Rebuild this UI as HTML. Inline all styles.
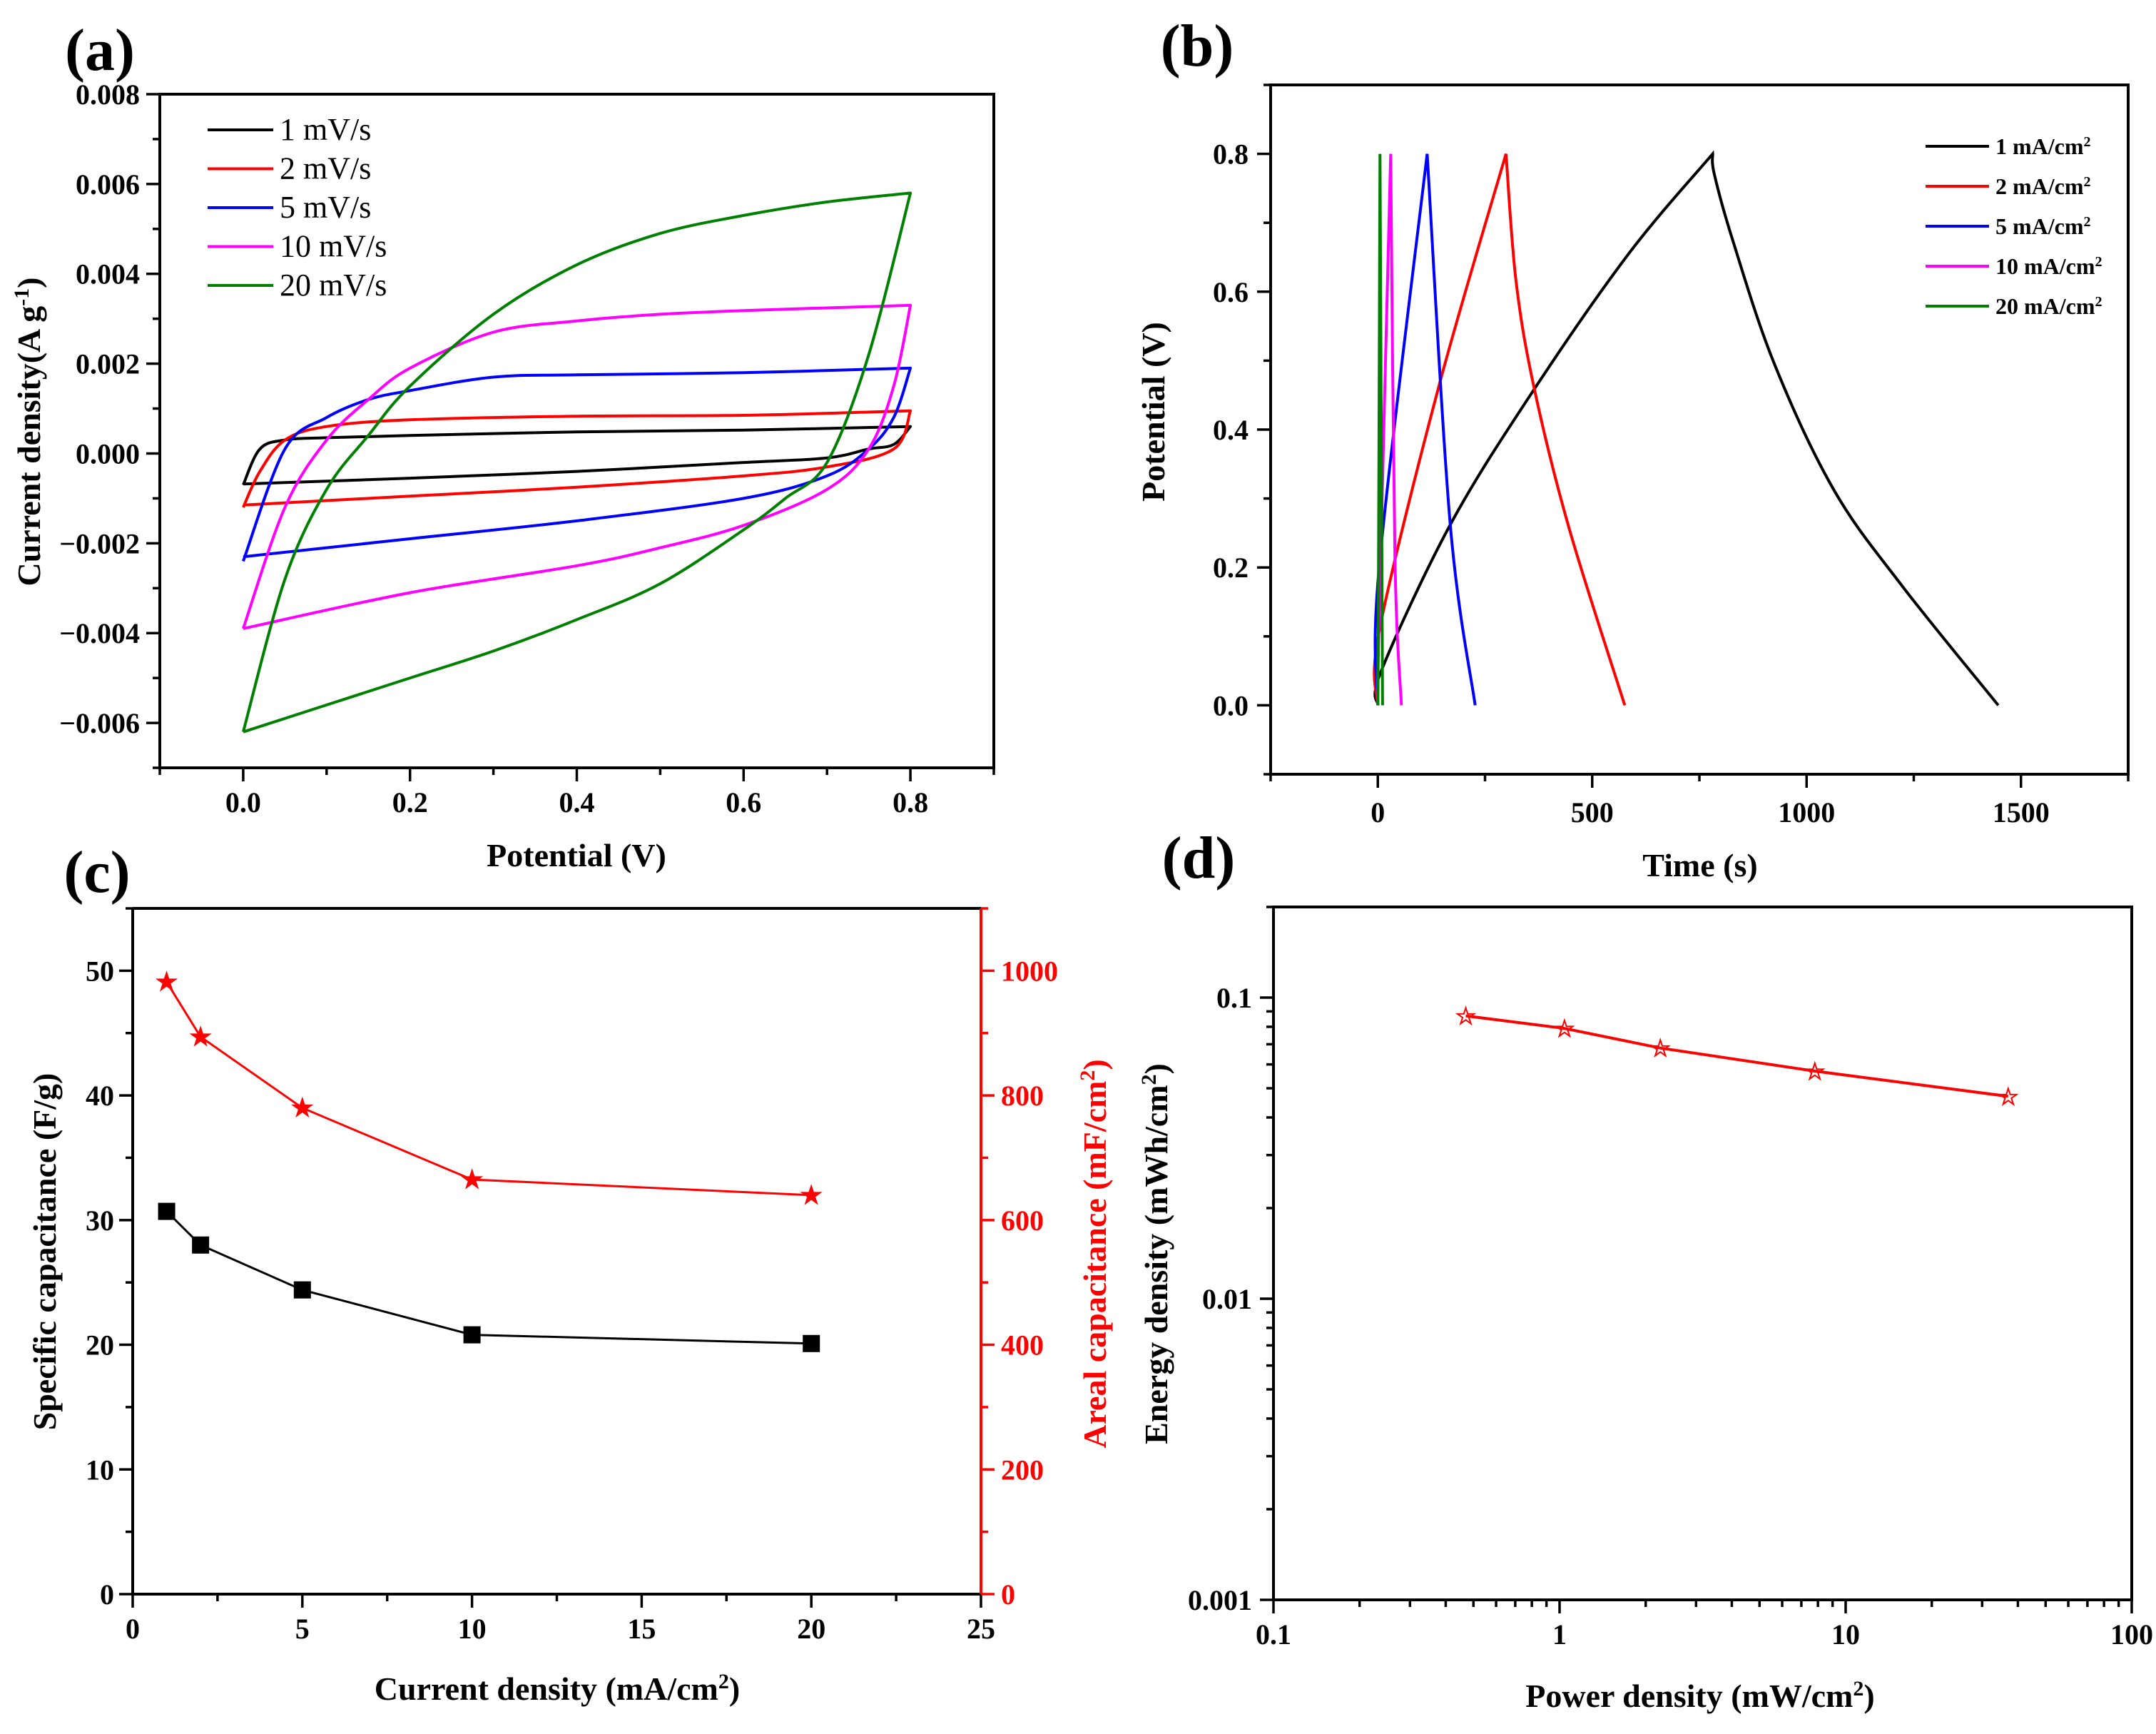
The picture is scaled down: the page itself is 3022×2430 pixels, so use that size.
<!DOCTYPE html>
<html><head><meta charset="utf-8">
<style>
html,body{margin:0;padding:0;background:#fff;}
svg{display:block;}
text{font-family:"Liberation Serif",serif;font-weight:bold;}
</style></head>
<body>
<svg id="fig" width="3022" height="2430" viewBox="0 0 3022 2430" xmlns="http://www.w3.org/2000/svg">
<rect width="3022" height="2430" fill="#fff"/>
</svg>
<script>
// ---------- Panel (a) data: CV curves ----------
const cvSeries = ["1 mV/s","2 mV/s","5 mV/s","10 mV/s","20 mV/s"];
const cvColors = ["#000000","#ff0000","#0000ff","#ff00ff","#008000"];
const cvUpperV = [
 [0,0.02,0.05,0.1,0.2,0.4,0.6,0.8],
 [0,0.02,0.05,0.1,0.2,0.4,0.6,0.8],
 [0,0.05,0.1,0.15,0.2,0.3,0.4,0.6,0.8],
 [0,0.05,0.1,0.15,0.2,0.3,0.4,0.5,0.6,0.8],
 [0,0.05,0.1,0.15,0.2,0.3,0.4,0.5,0.6,0.7,0.8]];
const cvUpperI = [
 [-0.0007,0.0001,0.0003,0.00035,0.0004,0.00048,0.00052,0.0006],
 [-0.0012,-0.0004,0.0003,0.0006,0.00075,0.00083,0.00085,0.00095],
 [-0.0024,0.0001,0.0008,0.0012,0.0014,0.0017,0.00175,0.0018,0.0019],
 [-0.0039,-0.0012,0.0003,0.0012,0.0019,0.0027,0.00295,0.0031,0.00318,0.0033],
 [-0.0062,-0.0028,-0.0008,0.0004,0.0015,0.0031,0.0042,0.0049,0.0053,0.0056,0.0058]];
const cvLowerV = [
 [0.8,0.78,0.75,0.7,0.6,0.4,0.2,0],
 [0.8,0.78,0.7,0.6,0.4,0.2,0],
 [0.8,0.78,0.75,0.7,0.6,0.4,0.2,0],
 [0.8,0.78,0.75,0.7,0.6,0.5,0.4,0.2,0],
 [0.8,0.75,0.7,0.65,0.6,0.5,0.4,0.3,0.2,0.1,0]];
const cvLowerI = [
 [0.0006,0.0002,0.0001,-0.0001,-0.0002,-0.0004,-0.00055,-0.00068],
 [0.00095,0.0001,-0.0003,-0.0005,-0.00075,-0.00095,-0.00115],
 [0.0019,0.0008,0.0001,-0.0005,-0.001,-0.0015,-0.0019,-0.0023],
 [0.0033,0.0015,0.0001,-0.0008,-0.0016,-0.0021,-0.0025,-0.0031,-0.0039],
 [0.0058,0.0022,-0.0002,-0.001,-0.0017,-0.0029,-0.0037,-0.0044,-0.005,-0.0056,-0.0062]];
const cvXTicks = ["0.0","0.2","0.4","0.6","0.8"];
const cvYTicks = ["-0.006","-0.004","-0.002","0.000","0.002","0.004","0.006","0.008"];

// ---------- Panel (b) data: GCD ----------
const gcdSeries = ["1 mA/cm","2 mA/cm","5 mA/cm","10 mA/cm","20 mA/cm"];
const gcdChargeT = [[0,8,169,361,585,781],[0,3,142,299],[0,3,115],[0,2,30],[0,1,5]];
const gcdChargeV = [[0,0.05,0.262,0.455,0.655,0.8],[0,0.107,0.462,0.8],[0,0.2,0.8],[0,0.1,0.8],[0,0.1,0.8]];
const gcdDischT = [[781,785,829,925,1064,1223,1447],[299,322,364,446,576],[115,169,227],[30,40,55],[5,8,11]];
const gcdDischV = [[0.8,0.77,0.672,0.495,0.312,0.173,0],[0.8,0.617,0.462,0.257,0],[0.8,0.262,0],[0.8,0.212,0],[0.8,0.4,0]];
const gcdXTicks = ["0","500","1000","1500"];
const gcdYTicks = ["0.0","0.2","0.4","0.6","0.8"];

// ---------- Panel (c) data ----------
const capCurrent = [1,2,5,10,20];
const capSpecific = [30.7,28.0,24.4,20.8,20.1];
const capAreal = [982,894,780,665,640];
const capXTicks = ["0","5","10","15","20","25"];
const capYTicks = ["0","10","20","30","40","50"];
const capY2Ticks = ["0","200","400","600","800","1000"];

// ---------- Panel (d) data ----------
const ragPower = [0.47,1.04,2.25,7.8,37];
const ragEnergy = [0.087,0.079,0.068,0.057,0.047];
const ragXTicks = ["0.1","1","10","100"];
const ragYTicks = ["0.001","0.01","0.1"];

const NS="http://www.w3.org/2000/svg";
const svg=document.getElementById('fig');
function mk(tag,attrs,parent){const e=document.createElementNS(NS,tag);for(const k in attrs)e.setAttribute(k,attrs[k]);(parent||svg).appendChild(e);return e;}
function txt(s,x,y,size,anchor,parent,fill,rot){const t=mk('text',{x:x,y:y,'font-size':size,'text-anchor':anchor||'middle',fill:fill||'#000'},parent);if(rot)t.setAttribute('transform','rotate(-90 '+x+' '+y+')');t.textContent=s;return t;}
function lin(d0,d1,r0,r1){return v=>r0+(v-d0)/(d1-d0)*(r1-r0);}
function logs(d0,d1,r0,r1){return v=>r0+(Math.log10(v)-Math.log10(d0))/(Math.log10(d1)-Math.log10(d0))*(r1-r0);}
function pathD(xs,ys,sx,sy){return xs.map((v,i)=>(i?'L':'M')+sx(v).toFixed(1)+' '+sy(ys[i]).toFixed(1)).join(' ');}
function smoothD(xs,ys,sx,sy){const p=xs.map((v,i)=>[sx(v),sy(ys[i])]);let d='M'+p[0][0].toFixed(1)+' '+p[0][1].toFixed(1);for(let i=0;i<p.length-1;i++){const p0=p[i-1]||p[i],p1=p[i],p2=p[i+1],p3=p[i+2]||p2;const c1=[p1[0]+(p2[0]-p0[0])/6,p1[1]+(p2[1]-p0[1])/6],c2=[p2[0]-(p3[0]-p1[0])/6,p2[1]-(p3[1]-p1[1])/6];d+=' C'+c1[0].toFixed(1)+' '+c1[1].toFixed(1)+' '+c2[0].toFixed(1)+' '+c2[1].toFixed(1)+' '+p2[0].toFixed(1)+' '+p2[1].toFixed(1);}return d;}
function frame(g,L,T,R,B,name){const r=mk('rect',{x:L,y:T,width:R-L,height:B-T,fill:'none',stroke:'#000','stroke-width':4},g);}
function tick(g,x1,y1,x2,y2,col){mk('line',{x1:x1,y1:y1,x2:x2,y2:y2,stroke:col||'#000','stroke-width':3.5},g);}
function group(name){const g=mk('g',{});return g;}

// ================= Panel a =================
(function(){
 const L=224,R=1393,T=132,B=1076;
 const sx=lin(-0.1,0.9,L,R), sy=lin(-0.007,0.008,B,T);
 const g=group('panel-a-cv');
 txt('(a)',140,98,84,'middle',g);
 frame(g,L,T,R,B,'panel-a-frame');
 const xa=group('panel-a-x-axis'); g.appendChild(xa);
 for(let v=-0.1;v<=0.9001;v+=0.1){const x=sx(v);tick(xa,x,B,x,B+(Math.abs(Math.round(v*10)%2)===0?19:10));}
 cvXTicks.forEach(s=>txt(s,sx(parseFloat(s)),1138,40,'middle',xa));
 const ya=group('panel-a-y-axis'); g.appendChild(ya);
 for(let k=-7;k<=8;k++){const y=sy(k*0.001);tick(ya,L,y,L-(k%2===0?19:10),y);}
 cvYTicks.forEach(s=>txt(s.replace('-','\u2212'),196,sy(parseFloat(s))+14,40,'end',ya));
 const yt=txt('Current density(A g',56,605,46,'middle',g,null,true);
 const sp=mk('tspan',{dy:-16,'font-size':30},yt);sp.textContent='-1';
 const sp2=mk('tspan',{dy:16},yt);sp2.textContent=')';
 
 const xt=txt('Potential (V)',808,1214,46,'middle',g);
 cvSeries.forEach((s,i)=>{
  const d=smoothD(cvUpperV[i],cvUpperI[i],sx,sy)+' '+smoothD(cvLowerV[i],cvLowerI[i],sx,sy).replace('M','L');
  const p=mk('path',{d:d,fill:'none',stroke:cvColors[i],'stroke-width':4,'stroke-linejoin':'round'},g);
  
  
  const ly=182+i*54.5;
  const le=group('legend-entry-a-'+(i+1)); g.appendChild(le);
  mk('line',{x1:291,y1:ly,x2:383,y2:ly,stroke:cvColors[i],'stroke-width':4},le);
  const t=txt(s,392,ly+14,44,'start',le);t.style.fontWeight='normal';
 });
})();

// ================= Panel b =================
(function(){
 const L=1781,R=2983,T=119,B=1085;
 const sx=lin(-250,1750,L,R), sy=lin(-0.1,0.9,B,T);
 const g=group('panel-b-gcd');
 txt('(b)',1678,92,84,'middle',g);
 frame(g,L,T,R,B,'panel-b-frame');
 const xa=group('panel-b-x-axis'); g.appendChild(xa);
 for(let v=-250;v<=1750;v+=250){const x=sx(v);tick(xa,x,B,x,B+(v%500===0?19:10));}
 gcdXTicks.forEach(s=>txt(s,sx(parseFloat(s)),1152,40,'middle',xa));
 const ya=group('panel-b-y-axis'); g.appendChild(ya);
 for(let k=-1;k<=9;k++){const y=sy(k*0.1);tick(ya,L,y,L-(k%2===0?19:10),y);}
 gcdYTicks.forEach(s=>txt(s,1750,sy(parseFloat(s))+14,40,'end',ya));
 const yt=txt('Potential (V)',1632,577,46,'middle',g,null,true);
 const xt=txt('Time (s)',2383,1228,46,'middle',g);
 gcdSeries.forEach((s,i)=>{
  const d=smoothD(gcdChargeT[i],gcdChargeV[i],sx,sy)+' '+smoothD(gcdDischT[i],gcdDischV[i],sx,sy).replace('M','L');
  const p=mk('path',{d:d,fill:'none',stroke:cvColors[i],'stroke-width':4,'stroke-linejoin':'miter'},g);
  
  
  const ly=205+i*56;
  const le=group('legend-entry-b-'+(i+1)); g.appendChild(le);
  mk('line',{x1:2699,y1:ly,x2:2788,y2:ly,stroke:cvColors[i],'stroke-width':4},le);
  const t=txt(s,2797,ly+11,32,'start',le);
  const sp=mk('tspan',{dy:-11,'font-size':20},t);sp.textContent='2';
 });
})();

// ================= Panel c =================
(function(){
 const L=186,R=1375,T=1273,B=2234;
 const sx=lin(0,25,L,R), sy=lin(0,55,B,T), sy2=lin(0,1100,B,T);
 const g=group('panel-c-capacitance');
 txt('(c)',136,1250,84,'middle',g);
 mk('line',{x1:L,y1:T,x2:R,y2:T,stroke:'#000','stroke-width':4},g);
 mk('line',{x1:L,y1:T,x2:L,y2:B,stroke:'#000','stroke-width':4},g);
 mk('line',{x1:L,y1:B,x2:R,y2:B,stroke:'#000','stroke-width':4},g);
 mk('line',{x1:R,y1:T,x2:R,y2:B,stroke:'#ff0000','stroke-width':4},g);
 const xa=group('panel-c-x-axis'); g.appendChild(xa);
 for(let v=0;v<=25;v+=2.5){const x=sx(v);tick(xa,x,B,x,B+(v%5===0?19:10));}
 capXTicks.forEach(s=>txt(s,sx(parseFloat(s)),2296,40,'middle',xa));
 const ya=group('panel-c-y-axis'); g.appendChild(ya);
 for(let v=0;v<=55;v+=5){const y=sy(v);tick(ya,L,y,L-(v%10===0?19:10),y);}
 capYTicks.forEach(s=>txt(s,160,sy(parseFloat(s))+14,40,'end',ya));
 const y2=group('panel-c-y2-axis'); g.appendChild(y2);
 for(let v=0;v<=1100;v+=100){const y=sy2(v);tick(y2,R,y,R+(v%200===0?19:10),y,'#ff0000');}
 capY2Ticks.forEach(s=>txt(s,1403,sy2(parseFloat(s))+14,40,'start',y2,'#ff0000'));
 const yt=txt('Specific capacitance (F/g)',78,1754,46,'middle',g,null,true);
 const y2t=txt('Areal capacitance (mF/cm',1550,1757,46,'middle',g,'#ff0000',true);
 const a=mk('tspan',{dy:-16,'font-size':30},y2t);a.textContent='2';const b=mk('tspan',{dy:16},y2t);b.textContent=')';
 
 const xt=txt('Current density (mA/cm',781,2382,46,'middle',g);
 const c=mk('tspan',{dy:-16,'font-size':30},xt);c.textContent='2';const d=mk('tspan',{dy:16},xt);d.textContent=')';
 
 const l1=mk('path',{d:pathD(capCurrent,capSpecific,sx,sy),fill:'none',stroke:'#000','stroke-width':3},g);
 
 
 capCurrent.forEach((v,i)=>{const r=mk('rect',{x:sx(v)-12,y:sy(capSpecific[i])-12,width:24,height:24,fill:'#000'},g);
  
  });
 const l2=mk('path',{d:pathD(capCurrent,capAreal,sx,sy2),fill:'none',stroke:'#ff0000','stroke-width':3},g);
 
 
 capCurrent.forEach((v,i)=>{const s=txt('\u2605',sx(v),sy2(capAreal[i])+12,36,'middle',g,'#ff0000');
  
  });
})();

// ================= Panel d =================
(function(){
 const L=1785,R=2988,T=1271,B=2242;
 const sx=logs(0.1,100,L,R), sy=logs(0.001,0.2,B,T);
 const g=group('panel-d-ragone');
 txt('(d)',1680,1230,84,'middle',g);
 frame(g,L,T,R,B,'panel-d-frame');
 const xa=group('panel-d-x-axis'); g.appendChild(xa);
 for(let e=-1;e<2;e++){for(let m=1;m<10;m++){const x=sx(m*Math.pow(10,e));tick(xa,x,B,x,B+(m===1?19:10));}}
 tick(xa,R,B,R,B+19);
 ragXTicks.forEach(s=>txt(s,sx(parseFloat(s)),2304,40,'middle',xa));
 const ya=group('panel-d-y-axis'); g.appendChild(ya);
 for(let e=-3;e<0;e++){for(let m=1;m<10;m++){const v=m*Math.pow(10,e);if(v>0.2)break;const y=sy(v);tick(ya,L,y,L-(m===1?19:10),y);}}
 ragYTicks.forEach(s=>txt(s,1755,sy(parseFloat(s))+14,40,'end',ya));
 const yt=txt('Energy density (mWh/cm',1636,1757,46,'middle',g,null,true);
 const a=mk('tspan',{dy:-16,'font-size':30},yt);a.textContent='2';const b=mk('tspan',{dy:16},yt);b.textContent=')';
 
 const xt=txt('Power density (mW/cm',2383,2392,46,'middle',g);
 const c=mk('tspan',{dy:-16,'font-size':30},xt);c.textContent='2';const d=mk('tspan',{dy:16},xt);d.textContent=')';
 
 const l=mk('path',{d:pathD(ragPower,ragEnergy,sx,sy),fill:'none',stroke:'#ff0000','stroke-width':4},g);
 
 
 ragPower.forEach((v,i)=>{const s=txt('\u2606',sx(v),sy(ragEnergy[i])+12,34,'middle',g,'#ff0000');
  
  });
})();
</script>
</body></html>
